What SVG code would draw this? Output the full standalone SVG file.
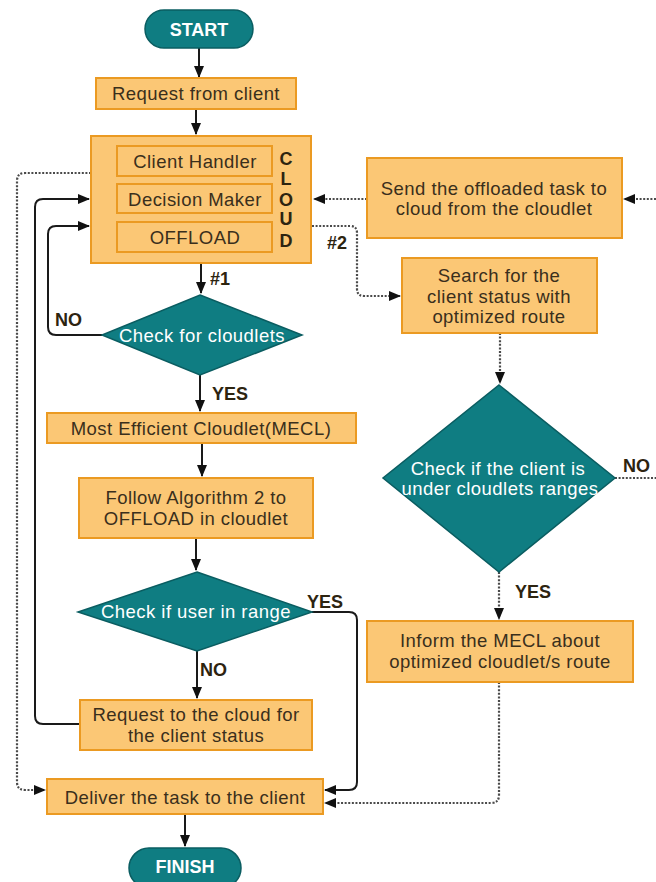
<svg xmlns="http://www.w3.org/2000/svg" width="656" height="882" viewBox="0 0 656 882">
<defs>
<style>
.box{fill:#fbc775;stroke:#eb9a22;stroke-width:2}
.teal{fill:#0f7d82;stroke:#0a5d61;stroke-width:1.5}
.t{font-family:"Liberation Sans",Arial,sans-serif;font-size:18.5px;letter-spacing:0.45px;fill:#3a2f1c;text-anchor:middle}
.tw{font-family:"Liberation Sans",Arial,sans-serif;font-size:18.5px;letter-spacing:0.45px;fill:#ffffff;text-anchor:middle}
.tb{font-family:"Liberation Sans",Arial,sans-serif;font-size:18px;font-weight:bold;fill:#ffffff;text-anchor:middle}
.lbl{font-family:"Liberation Sans",Arial,sans-serif;font-size:18px;font-weight:bold;fill:#2d2410}
.cl{font-family:"Liberation Sans",Arial,sans-serif;font-size:18px;font-weight:bold;fill:#2d2410;text-anchor:middle}
.solid{fill:none;stroke:#1a1a1a;stroke-width:2;marker-end:url(#ah)}
.dot{fill:none;stroke:#4a4a4a;stroke-width:2.2;stroke-dasharray:2 1.6;marker-end:url(#ah)}
.dotn{fill:none;stroke:#4a4a4a;stroke-width:2.2;stroke-dasharray:2 1.6}
</style>
<marker id="ah" markerUnits="userSpaceOnUse" markerWidth="12" markerHeight="10" refX="11" refY="5" orient="auto">
<path d="M0,0 L12,5 L0,10 Z" fill="#111"/>
</marker>
</defs>
<rect width="656" height="882" fill="#ffffff"/>

<g id="connectors">
<path class="solid" d="M199,48 V77"/>
<path class="solid" d="M196,109 V134"/>
<path class="solid" d="M201,263 V293"/>
<path class="solid" d="M200,375 V411"/>
<path class="solid" d="M102,335 H56 Q48,335 48,327 V234 Q48,226 56,226 H89"/>
<path class="solid" d="M202,443 V476"/>
<path class="solid" d="M196,538 V570"/>
<path class="solid" d="M197,651 V698"/>
<path class="solid" d="M312,612 H349 Q357,612 357,620 V782 Q357,790 349,790 H325"/>
<path class="solid" d="M80,724 H43 Q35,724 35,716 V207 Q35,199 43,199 H89"/>
<path class="dot" d="M91,173 H25 Q17,173 17,181 V782 Q17,790 25,790 H45"/>
<path class="solid" d="M185,814 V846"/>
<path class="dot" d="M367,199 H314"/>
<path class="dot" d="M656,199 H624"/>
<path class="dot" d="M312,226 H350 Q357,226 357,233 V289 Q357,296 364,296 H400"/>
<path class="dot" d="M500,333 V383"/>
<path class="dotn" d="M615,478 H656"/>
<path class="dot" d="M499,572 V619"/>
<path class="dot" d="M499,682 V795 Q499,803 491,803 H325"/>
<text class="lbl" x="210" y="285">#1</text>
<text class="lbl" x="212" y="400">YES</text>
<text class="lbl" x="55" y="326">NO</text>
<text class="lbl" x="200" y="676">NO</text>
<text class="lbl" x="307" y="608">YES</text>
<text class="lbl" x="327" y="249">#2</text>
<text class="lbl" x="623" y="472">NO</text>
<text class="lbl" x="515" y="598">YES</text>
</g>

<g id="start">
<rect class="teal" x="145" y="10" width="108" height="38" rx="19"/>
<text class="tb" x="199" y="35.5">START</text>
</g>

<g id="request">
<rect class="box" x="96" y="78" width="200" height="31"/>
<text class="t" x="196" y="100">Request from client</text>
</g>

<g id="cloud">
<rect class="box" x="91" y="136" width="220" height="127"/>
<rect class="box" x="117" y="146" width="155" height="30"/>
<text class="t" x="195" y="168">Client Handler</text>
<rect class="box" x="117" y="184" width="155" height="29"/>
<text class="t" x="195" y="206">Decision Maker</text>
<rect class="box" x="117" y="222" width="155" height="30"/>
<text class="t" x="195" y="244">OFFLOAD</text>
<text class="cl" x="286" y="164.5">C</text>
<text class="cl" x="286" y="184.5">L</text>
<text class="cl" x="286" y="205.5">O</text>
<text class="cl" x="286" y="224.5">U</text>
<text class="cl" x="286" y="246.5">D</text>
</g>

<g id="send">
<rect class="box" x="367" y="158" width="255" height="80"/>
<text class="t" x="494" y="194.5">Send the offloaded task to</text>
<text class="t" x="494" y="215">cloud from the cloudlet</text>
</g>

<g id="search">
<rect class="box" x="402" y="258" width="195" height="75"/>
<text class="t" x="499" y="281.5">Search for the</text>
<text class="t" x="499" y="302.5">client status with</text>
<text class="t" x="499" y="323">optimized route</text>
</g>

<g id="check-cloudlets">
<polygon class="teal" points="200,295 302,335 200,375 102,335"/>
<text class="tw" x="202" y="342">Check for cloudlets</text>
</g>

<g id="check-client-range">
<polygon class="teal" points="499,385 615,478 499,572 383,478"/>
<text class="tw" x="498" y="474.5">Check if the client is</text>
<text class="tw" x="500" y="495">under cloudlets ranges</text>
</g>

<g id="mecl">
<rect class="box" x="47" y="413" width="309" height="30"/>
<text class="t" x="201" y="435">Most Efficient Cloudlet(MECL)</text>
</g>

<g id="follow">
<rect class="box" x="79" y="478" width="234" height="60"/>
<text class="t" x="196" y="504">Follow Algorithm 2 to</text>
<text class="t" x="196" y="524.5">OFFLOAD in cloudlet</text>
</g>

<g id="check-user-range">
<polygon class="teal" points="197,572 312,612 197,651 78,612"/>
<text class="tw" x="196" y="618">Check if user in range</text>
</g>

<g id="inform">
<rect class="box" x="367" y="621" width="266" height="61"/>
<text class="t" x="500" y="646.5">Inform the MECL about</text>
<text class="t" x="500" y="667.5">optimized cloudlet/s route</text>
</g>

<g id="request-cloud">
<rect class="box" x="80" y="700" width="232" height="50"/>
<text class="t" x="196" y="721">Request to the cloud for</text>
<text class="t" x="196" y="741.5">the client status</text>
</g>

<g id="deliver">
<rect class="box" x="47" y="779" width="276" height="35"/>
<text class="t" x="185" y="804">Deliver the task to the client</text>
</g>

<g id="finish">
<rect class="teal" x="129" y="848" width="112" height="40" rx="20"/>
<text class="tb" x="185" y="873">FINISH</text>
</g>
</svg>
